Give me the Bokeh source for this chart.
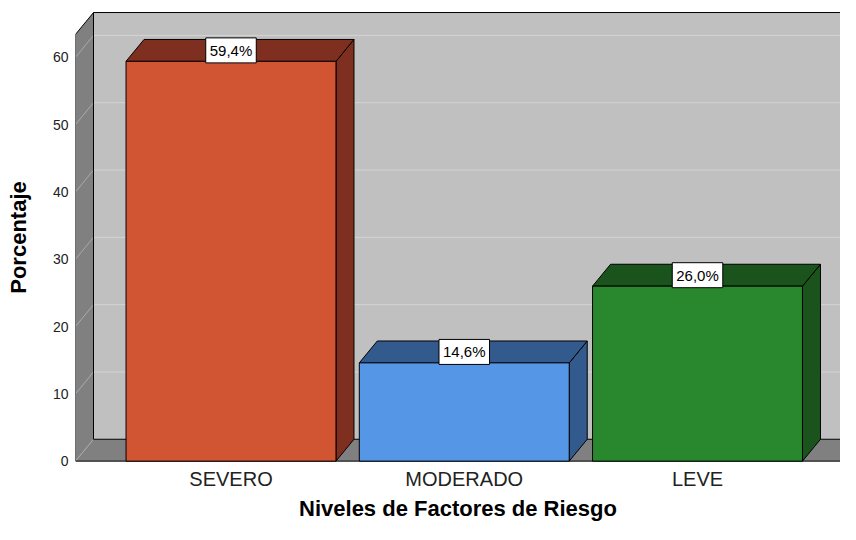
from bokeh.plotting import figure
from bokeh.models import Range1d, FixedTicker
from bokeh.core.properties import value
from bokeh.embed import file_html
from bokeh.resources import INLINE

# ---- data ----
categories = ["SEVERO", "MODERADO", "LEVE"]
percentages = [59.4, 14.6, 26.0]
value_labels = ["59,4%", "14,6%", "26,0%"]
front_colors = ["#D15433", "#5596E6", "#29882D"]
dark_colors = ["#7F2F1F", "#335A8C", "#1B531C"]
y_ticks = [0, 10, 20, 30, 40, 50, 60]

# ---- style / 3D geometry ----
Y_MAX = 63.4      # top of walls (front plane)
DX = 0.0772       # depth offset in x (data units)
DY = 3.25         # depth offset in y (data units)
HALF = 0.45       # half bar width
X0, X1 = -0.6667, 2.613
FONT = "Liberation Sans"

p = figure(width=840, height=524,
           x_range=Range1d(X0, X1), y_range=Range1d(-0.5, Y_MAX + DY + 0.3),
           output_backend="svg", toolbar_location=None,
           min_border_left=75, min_border_right=0,
           min_border_top=10, min_border_bottom=60)
p.outline_line_color = None
p.grid.visible = False
p.background_fill_color = "white"

XR = X1 + 1.0
# walls and floor
p.patch([X0, X0 + DX, X0 + DX, X0], [0, DY, Y_MAX + DY, Y_MAX],
        fill_color="#808080", line_color=None)
p.patch([X0 + DX, XR, XR, X0 + DX], [DY, DY, Y_MAX + DY, Y_MAX + DY],
        fill_color="#C0C0C0", line_color=None)
p.patch([X0, XR, XR + DX, X0 + DX], [0, 0, DY, DY],
        fill_color="#808080", line_color=None)

# grid lines
p.multi_line([[X0 + DX, XR] for t in y_ticks[1:]],
             [[t + DY, t + DY] for t in y_ticks[1:]],
             line_color="#D4D4D4", line_width=1)
p.multi_line([[X0, X0 + DX] for t in y_ticks],
             [[t, t + DY] for t in y_ticks],
             line_color="#AAAAAA", line_width=1)

# black edges of the box
p.multi_line(
    [[X0, X0], [X0, X0 + DX], [X0 + DX, XR], [X0 + DX, X0 + DX], [X0, XR], [X0 + DX, XR]],
    [[0, Y_MAX], [Y_MAX, Y_MAX + DY], [Y_MAX + DY, Y_MAX + DY], [DY, Y_MAX + DY], [0, 0], [DY, DY]],
    line_color="black", line_width=1)

# bars
xs = list(range(len(categories)))
top_xs, top_ys, side_xs, side_ys = [], [], [], []
for x, v in zip(xs, percentages):
    top_xs.append([x - HALF, x + HALF, x + HALF + DX, x - HALF + DX])
    top_ys.append([v, v, v + DY, v + DY])
    side_xs.append([x + HALF, x + HALF + DX, x + HALF + DX, x + HALF])
    side_ys.append([0, DY, v + DY, v])

p.patches(side_xs, side_ys, fill_color=dark_colors, line_color="black", line_width=1)
p.patches(top_xs, top_ys, fill_color=dark_colors, line_color="black", line_width=1)
p.quad(left=[x - HALF for x in xs], right=[x + HALF for x in xs],
       bottom=0, top=percentages, fill_color=front_colors,
       line_color="black", line_width=1)

# value labels
p.text(x=xs, y=[v + DY / 2 for v in percentages], text=value_labels,
       text_font=value(FONT), text_font_size="15px", text_color="black",
       text_align="center", text_baseline="middle",
       background_fill_color="white", border_line_color="black",
       padding=4)

# axes
xa = p.xaxis[0]
xa.ticker = FixedTicker(ticks=xs)
xa.major_label_overrides = {i: c for i, c in enumerate(categories)}
xa.axis_line_color = None
xa.major_tick_line_color = None
xa.minor_tick_line_color = None
xa.major_tick_out = 0
xa.major_tick_in = 0
xa.minor_tick_out = 0
xa.major_label_text_font = FONT
xa.major_label_text_font_size = "20px"
xa.major_label_text_color = "#222222"
xa.major_label_standoff = 3
xa.axis_label = "Niveles de Factores de Riesgo"
xa.axis_label_text_font = FONT
xa.axis_label_text_font_style = "bold"
xa.axis_label_text_font_size = "22px"
xa.axis_label_text_color = "black"
xa.axis_label_standoff = 3

ya = p.yaxis[0]
ya.ticker = FixedTicker(ticks=y_ticks)
ya.axis_line_color = None
ya.major_tick_line_color = None
ya.minor_tick_line_color = None
ya.major_tick_out = 0
ya.major_tick_in = 0
ya.minor_tick_out = 0
ya.major_label_text_font = FONT
ya.major_label_text_font_size = "14px"
ya.major_label_text_color = "#222222"
ya.major_label_standoff = 7
ya.axis_label = "Porcentaje"
ya.axis_label_text_font = FONT
ya.axis_label_text_font_style = "bold"
ya.axis_label_text_font_size = "22px"
ya.axis_label_text_color = "black"
ya.axis_label_standoff = 19

open("out.html", "w").write(file_html(p, INLINE))
